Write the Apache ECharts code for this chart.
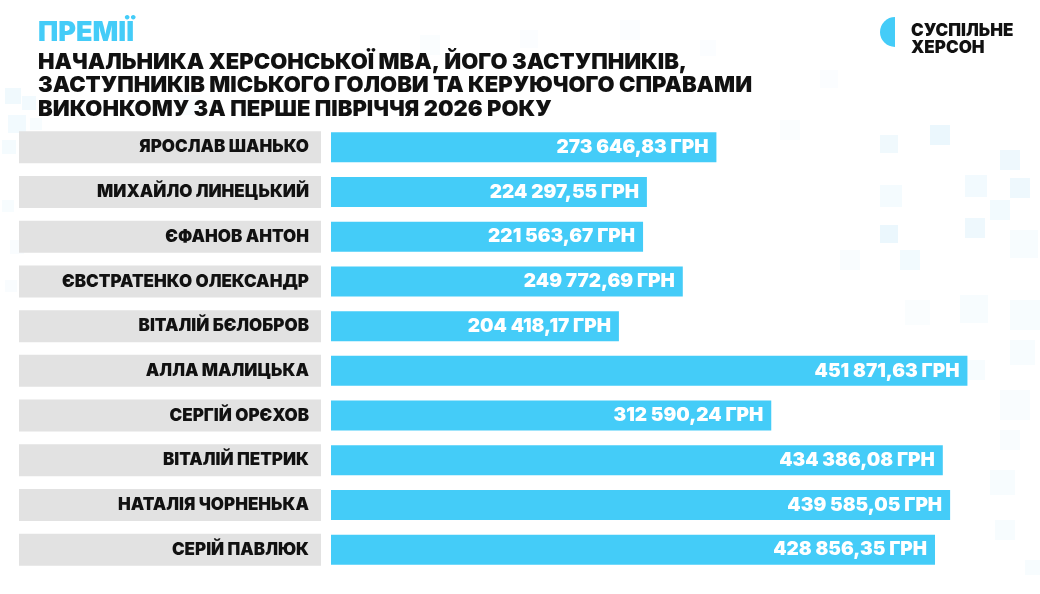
<!DOCTYPE html>
<html>
<head>
<meta charset="utf-8">
<script src="https://cdn.jsdelivr.net/npm/echarts@6/dist/echarts.min.js"></script>
<style>
  html, body { margin: 0; padding: 0; background: #fff; }
  #chart { width: 1040px; height: 594px; }
</style>
</head>
<body>
<div id="chart"></div>
<script>
// дані
const names = [
  'ЯРОСЛАВ ШАНЬКО',
  'МИХАЙЛО ЛИНЕЦЬКИЙ',
  'ЄФАНОВ АНТОН',
  'ЄВСТРАТЕНКО ОЛЕКСАНДР',
  'ВІТАЛІЙ БЄЛОБРОВ',
  'АЛЛА МАЛИЦЬКА',
  'СЕРГІЙ ОРЄХОВ',
  'ВІТАЛІЙ ПЕТРИК',
  'НАТАЛІЯ ЧОРНЕНЬКА',
  'СЕРІЙ ПАВЛЮК'
];
const bonuses = [273646.83, 224297.55, 221563.67, 249772.69, 204418.17, 451871.63, 312590.24, 434386.08, 439585.05, 428856.35];
const titleMain = 'ПРЕМІЇ';
const titleLines = [
  'НАЧАЛЬНИКА ХЕРСОНСЬКОЇ МВА, ЙОГО ЗАСТУПНИКІВ,',
  'ЗАСТУПНИКІВ МІСЬКОГО ГОЛОВИ ТА КЕРУЮЧОГО СПРАВАМИ',
  'ВИКОНКОМУ ЗА ПЕРШЕ ПІВРІЧЧЯ 2026 РОКУ'
];

const CYAN = '#44ccf8';

function fmt(v) {
  let parts = v.toFixed(2).split('.');
  let int = parts[0].replace(/\B(?=(\d{3})+(?!\d))/g, ' ');
  return int + ',' + parts[1] + ' ГРН';
}

// фонові квадратики
const squares = [
  [880, 135, 18, 0.35], [930, 125, 20, 0.45], [1000, 150, 20, 0.4], [965, 175, 22, 0.3],
  [880, 185, 22, 0.25], [1010, 178, 20, 0.4], [880, 225, 18, 0.45], [990, 200, 20, 0.3],
  [965, 218, 20, 0.4], [1010, 230, 28, 0.2], [900, 250, 20, 0.3], [840, 250, 20, 0.15],
  [960, 295, 28, 0.2], [1010, 300, 30, 0.2], [905, 300, 25, 0.12], [965, 360, 20, 0.2],
  [1010, 340, 25, 0.2], [1000, 390, 30, 0.15], [1000, 430, 20, 0.15], [990, 470, 25, 0.2],
  [995, 520, 20, 0.2], [1025, 560, 15, 0.2],
  [5, 88, 16, 0.35], [22, 96, 14, 0.3], [8, 115, 18, 0.3], [30, 118, 12, 0.2],
  [2, 140, 14, 0.25], [2, 200, 12, 0.2], [10, 240, 14, 0.15], [5, 280, 12, 0.15],
  [180, 95, 20, 0.15], [240, 100, 18, 0.12], [420, 35, 20, 0.12], [520, 30, 18, 0.1],
  [620, 20, 20, 0.1], [700, 40, 16, 0.1], [780, 120, 20, 0.12], [820, 70, 18, 0.1]
];

const chart = echarts.init(document.getElementById('chart'));

const graphics = squares.map(s => ({
  type: 'rect',
  silent: true,
  z: -10,
  shape: { x: s[0], y: s[1], width: s[2], height: s[2] },
  style: { fill: 'rgba(120,200,240,' + (s[3] * 0.32) + ')' }
}));

graphics.push({
  type: 'text', left: 38, top: 19,
  style: { text: titleMain, font: '900 27px Inter', fill: CYAN }
});
titleLines.forEach((t, i) => {
  graphics.push({
    type: 'text', left: 38, top: 51 + i * 23.5,
    style: { text: t, font: '900 22px Inter', fill: '#111' }
  });
});
// логотип
graphics.push({
  type: 'sector',
  shape: { cx: 895, cy: 32, r0: 0, r: 15, startAngle: Math.PI / 2, endAngle: Math.PI * 1.5 },
  style: { fill: CYAN }
});
graphics.push({
  type: 'text', left: 911, top: 22,
  style: { text: 'СУСПІЛЬНЕ\nХЕРСОН', font: '900 17px Inter', lineHeight: 17, fill: '#111' }
});

chart.setOption({
  backgroundColor: '#fff',
  animation: false,
  graphic: graphics,
  grid: { left: 331, right: 40, top: 125, height: 447 },
  xAxis: {
    type: 'value', min: 0, max: 475000,
    show: false
  },
  yAxis: {
    type: 'category',
    inverse: true,
    data: names,
    axisLine: { show: false },
    axisTick: { show: false },
    axisLabel: {
      margin: 10,
      width: 290,
      height: 32,
      lineHeight: 32,
      padding: [0, 12, 0, 0],
      align: 'right',
      backgroundColor: '#e2e2e2',
      color: '#111',
      fontFamily: 'Inter',
      fontWeight: 900,
      fontSize: 17
    }
  },
  series: [{
    type: 'bar',
    data: bonuses,
    barWidth: 30,
    itemStyle: { color: CYAN },
    label: {
      show: true,
      position: 'insideRight',
      distance: 8,
      color: '#fff',
      fontFamily: 'Inter',
      fontWeight: 900,
      fontSize: 19,
      formatter: p => fmt(p.value)
    }
  }]
});
</script>
</body>
</html>
